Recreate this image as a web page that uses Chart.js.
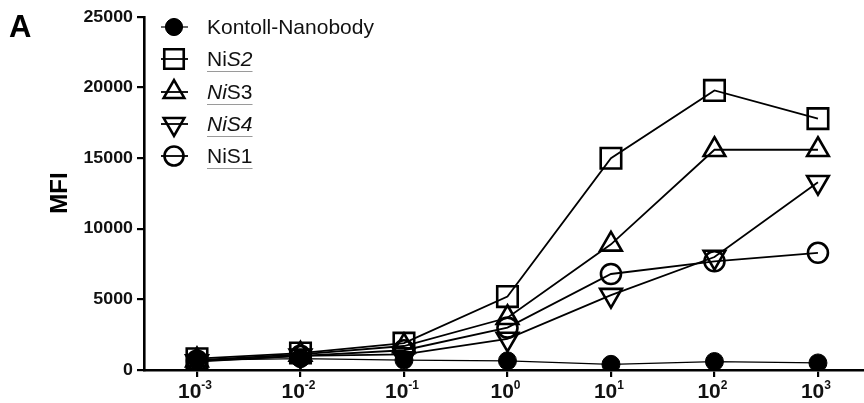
<!DOCTYPE html>
<html>
<head>
<meta charset="utf-8">
<script src="https://cdn.jsdelivr.net/npm/chart.js@4/dist/chart.umd.min.js"></script>
<style>
  html, body { margin: 0; padding: 0; background: #fff; }
  #wrap { width: 864px; height: 403px; position: relative; }
</style>
</head>
<body>
<div id="wrap"><canvas id="c"></canvas></div>
<script>
// Concentration exponents (10^n) on the x axis
const exponents = [-3, -2, -1, 0, 1, 2, 3];
const yTickValues = [0, 5000, 10000, 15000, 20000, 25000];

// MFI per concentration
const kontroll = [700, 800, 700, 650, 400, 600, 500];
const nis2 = [800, 1200, 1900, 5200, 15000, 19800, 17800];
const nis3 = [700, 1100, 1700, 3700, 8900, 15600, 15600];
const nis4 = [600, 1000, 1100, 2200, 5300, 8000, 13300];
const nis1 = [650, 1000, 1400, 3000, 6800, 7700, 8300];

// Legend labels split into [text, italic?] runs; all but the first are underlined
const legendRuns = [
  [['Kontoll-Nanobody', false]],
  [['Ni', false], ['S2', true]],
  [['Ni', true], ['S3', false]],
  [['NiS4', true]],
  [['NiS1', false]]
];
const underlined = [false, true, true, true, true];

const FONT = '"Liberation Sans", Arial, Helvetica, sans-serif';

function pts(values) {
  return exponents.map((e, i) => ({ x: e, y: values[i] }));
}

const markerStyles = [
  { pointStyle: 'circle', radius: 9, fill: '#000', borderWidth: 1, lineWidth: 1.2 },
  { pointStyle: 'rect', radius: 14.5, fill: 'rgba(0,0,0,0)', borderWidth: 2.6, lineWidth: 1.8 },
  { pointStyle: 'triangle', radius: 12.5, fill: 'rgba(0,0,0,0)', borderWidth: 2.6, lineWidth: 1.8, rotation: 0 },
  { pointStyle: 'triangle', radius: 12.5, fill: 'rgba(0,0,0,0)', borderWidth: 2.6, lineWidth: 1.8, rotation: 180 },
  { pointStyle: 'circle', radius: 10, fill: 'rgba(0,0,0,0)', borderWidth: 2.6, lineWidth: 1.8 }
];
const seriesValues = [kontroll, nis2, nis3, nis4, nis1];
const seriesLabels = ['Kontoll-Nanobody', 'NiS2', 'NiS3', 'NiS4', 'NiS1'];

const datasets = seriesValues.map((vals, i) => {
  const m = markerStyles[i];
  return {
    label: seriesLabels[i],
    data: pts(vals),
    borderColor: '#000',
    borderWidth: m.lineWidth,
    backgroundColor: m.fill,
    pointStyle: m.pointStyle,
    pointRadius: m.radius,
    pointHoverRadius: m.radius,
    pointBorderColor: '#000',
    pointBackgroundColor: m.fill,
    pointBorderWidth: m.borderWidth,
    pointRotation: m.rotation || 0,
    tension: 0,
    order: 4 - i
  };
});

// Draws the panel letter, axis title, tick labels and the legend
const decorations = {
  id: 'decorations',
  afterDraw(chart) {
    const ctx = chart.ctx;
    const xs = chart.scales.x;
    const ys = chart.scales.y;
    ctx.save();
    ctx.fillStyle = '#000';

    // panel letter
    ctx.font = 'bold 31px ' + FONT;
    ctx.textAlign = 'left';
    ctx.textBaseline = 'alphabetic';
    ctx.fillText('A', 9, 37);

    // y axis title
    ctx.save();
    ctx.translate(67, 193);
    ctx.rotate(-Math.PI / 2);
    ctx.font = 'bold 24px ' + FONT;
    ctx.textAlign = 'center';
    ctx.fillText('MFI', 0, 0);
    ctx.restore();

    // y tick labels, slightly widened
    ctx.fillStyle = '#111';
    ctx.font = 'bold 16.5px ' + FONT;
    ctx.textAlign = 'right';
    ctx.textBaseline = 'middle';
    yTickValues.forEach(v => {
      const y = ys.getPixelForValue(v);
      ctx.save();
      ctx.translate(133, y);
      ctx.scale(1.08, 1);
      ctx.fillText(String(v), 0, 0);
      ctx.restore();
    });

    // x tick labels as 10 with a raised exponent
    ctx.textBaseline = 'alphabetic';
    ctx.textAlign = 'left';
    exponents.forEach(e => {
      const x = xs.getPixelForValue(e);
      const base = '10';
      const sup = String(e);
      ctx.font = 'bold 21px ' + FONT;
      const wb = ctx.measureText(base).width;
      ctx.font = 'bold 12px ' + FONT;
      const ws = ctx.measureText(sup).width;
      const start = x - (wb + ws) / 2 - 2;
      ctx.font = 'bold 21px ' + FONT;
      ctx.fillText(base, start, 398);
      ctx.font = 'bold 12px ' + FONT;
      ctx.fillText(sup, start + wb, 389);
    });

    // legend
    const rowY = [27, 59, 92, 124, 156];
    const markX = 174;
    rowY.forEach((y, i) => {
      const m = markerStyles[i];
      ctx.strokeStyle = '#000';
      ctx.lineWidth = m.lineWidth;
      ctx.beginPath();
      ctx.moveTo(161, y);
      ctx.lineTo(188, y);
      ctx.stroke();
      ctx.lineWidth = m.borderWidth;
      ctx.fillStyle = m.fill;
      Chart.helpers.drawPoint(ctx, {
        pointStyle: m.pointStyle,
        radius: m.radius * 0.95,
        rotation: m.rotation || 0,
        borderWidth: m.borderWidth
      }, markX, y);
      if (m.fill !== 'rgba(0,0,0,0)') ctx.fill();

      ctx.fillStyle = '#111';
      ctx.textBaseline = 'middle';
      ctx.textAlign = 'left';
      let tx = 207;
      legendRuns[i].forEach(([txt, it]) => {
        ctx.font = (it ? 'italic ' : '') + '21px ' + FONT;
        ctx.fillText(txt, tx, y + 1);
        tx += ctx.measureText(txt).width;
      });
      if (underlined[i]) {
        ctx.strokeStyle = '#9a9a9a';
        ctx.lineWidth = 1;
        ctx.beginPath();
        ctx.moveTo(207, y + 12.5);
        ctx.lineTo(tx, y + 12.5);
        ctx.stroke();
      }
    });
    ctx.restore();
  }
};

new Chart(document.getElementById('c'), {
  type: 'line',
  data: { datasets },
  options: {
    responsive: true,
    maintainAspectRatio: false,
    animation: false,
    events: [],
    layout: { autoPadding: false, padding: { top: 17, right: 0, left: 0, bottom: 0 } },
    plugins: {
      legend: { display: false },
      tooltip: { enabled: false }
    },
    scales: {
      x: {
        type: 'linear',
        min: -3.512,
        max: 3.445,
        afterBuildTicks: s => { s.ticks = exponents.map(v => ({ value: v })); },
        afterFit: s => { s.height = 33; },
        ticks: { display: false },
        grid: {
          drawOnChartArea: false,
          drawTicks: true,
          tickLength: 7,
          color: '#000',
          lineWidth: 2.2
        },
        border: { color: '#000', width: 2.6 }
      },
      y: {
        min: 0,
        max: 25000,
        afterBuildTicks: s => { s.ticks = yTickValues.map(v => ({ value: v })); },
        afterFit: s => { s.width = 144; },
        ticks: { display: false },
        grid: {
          drawOnChartArea: false,
          drawTicks: true,
          tickLength: 7,
          color: '#000',
          lineWidth: 2.2
        },
        border: { color: '#000', width: 2.6 }
      }
    }
  },
  plugins: [decorations]
});
</script>
</body>
</html>
